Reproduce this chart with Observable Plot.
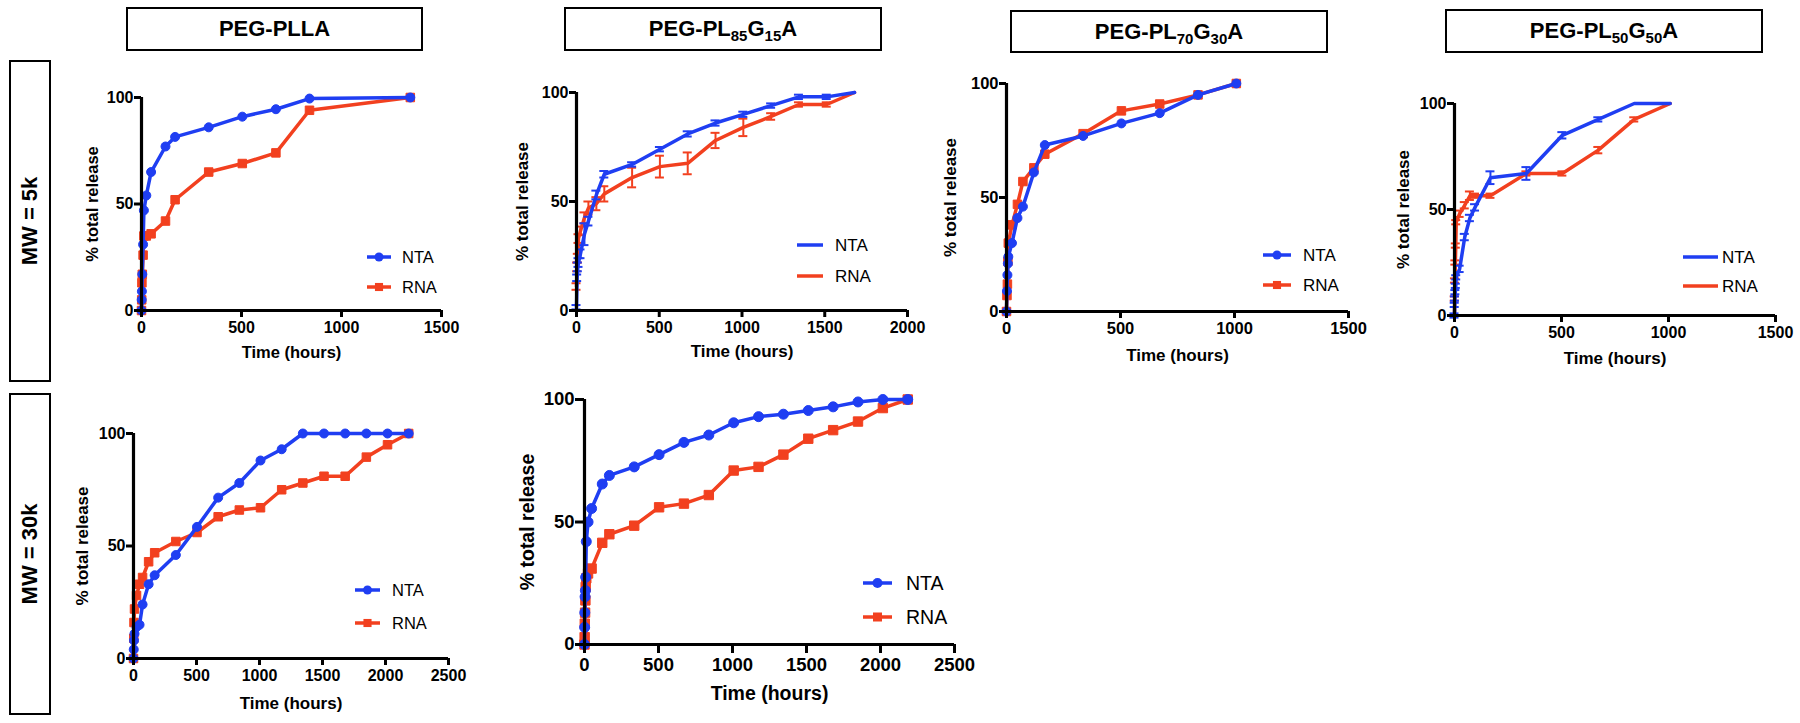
<!DOCTYPE html>
<html><head><meta charset="utf-8">
<script src="https://cdn.jsdelivr.net/npm/d3@7"></script>
<script src="https://cdn.jsdelivr.net/npm/@observablehq/plot@0.6"></script>
<style>
body{margin:0;background:#fff;}
#fig{position:relative;width:1800px;height:723px;overflow:hidden;font-family:"Liberation Sans",Arial,sans-serif;background:#fff;}
.box{position:absolute;border:2px solid #000;box-sizing:border-box;display:flex;align-items:center;justify-content:center;font-weight:bold;font-size:22px;color:#000;}
.box span.rot{display:inline-block;transform:rotate(-90deg);white-space:nowrap;}
.box sub{font-size:15px;vertical-align:-5px;line-height:0;}
svg.plot{position:absolute;}
</style></head><body><div id="fig"></div>
<script>
// ---------- DATA ----------
// PEG-PLLA, MW = 5k
const p1Time = [0, 1, 2, 4, 8, 12, 24, 48, 120, 168, 336, 504, 672, 840, 1344];
const p1NTA  = [0, 5, 9, 17, 31, 47, 54, 65, 77, 81.5, 86, 91, 94.5, 99.5, 100];
const p1RNA  = [0, 5, 13, 17, 26, 35, 35, 36, 42, 52, 65, 69, 74, 94, 100];
// PEG-PL85G15A, MW = 5k (mean ± error)
const p2Time   = [0, 4, 8, 12, 24, 48, 72, 120, 168, 336, 504, 672, 840, 1008, 1176, 1344, 1512, 1680];
const p2NTA    = [1.5, 15, 20, 22, 26, 35, 41, 53, 62.5, 67, 74, 81, 86, 90, 94, 98, 98, 100];
const p2NTAErr = [1, 1.5, 2, 2, 2, 5, 2, 2, 1.5, 1, 1, 1.2, 1.2, 1.2, 1, 1, 1, 0];
const p2RNA    = [11, 20, 24, 33, 36.5, 42.5, 47, 49, 53.5, 61, 66, 67.5, 78, 84, 89, 94.5, 94.5, 100];
const p2RNAErr = [1.5, 2, 2, 2, 2, 2.5, 3, 3, 3.5, 4.5, 5, 5, 3.5, 4, 1.5, 1, 1, 0];
// PEG-PL70G30A, MW = 5k
const p3Time = [0, 2, 4, 6, 8, 24, 48, 72, 120, 168, 336, 504, 672, 840, 1008];
const p3NTA  = [0, 9, 16, 21, 24, 30, 41, 46, 61, 73, 77, 82.5, 87, 95, 100];
const p3RNA  = [0, 7, 12, 22, 30, 38, 47, 57, 63, 69, 78, 88, 91, 95, 100];
// PEG-PL50G50A, MW = 5k (mean ± error)
const p4Time   = [0, 1, 2, 4, 6, 8, 24, 48, 72, 96, 168, 336, 504, 672, 840, 1008];
const p4NTA    = [0, 5, 8, 11, 14, 18, 22, 37, 46, 51, 65, 67, 85, 92.5, 100, 100];
const p4NTAErr = [1, 1, 1, 1, 1, 1, 1.5, 1.5, 1.5, 1.5, 3, 3, 1.5, 1, 0, 0];
const p4RNA    = [0, 8, 16.5, 25, 33, 44, 48, 52, 56.5, 56.5, 56.5, 67, 67, 78, 92.5, 100];
const p4RNAErr = [0, 1, 1, 1, 1, 1, 1.5, 1.5, 2, 1, 1, 1, 1, 1.5, 1, 0];
// PEG-PLLA, MW = 30k
const p5Time = [0, 2, 4, 8, 24, 48, 72, 120, 168, 336, 504, 672, 840, 1008, 1176, 1344, 1512, 1680, 1848, 2016, 2184];
const p5NTA  = [0, 4, 8, 11, 14, 15, 24, 33, 37, 46, 58.5, 71.5, 78, 88, 93, 100, 100, 100, 100, 100, 100];
const p5RNA  = [0, 9, 16, 22, 28, 33, 36, 43, 47, 52, 56, 63, 66, 67, 75, 78, 81, 81, 89.5, 95, 100];
// PEG-PL85G15A, MW = 30k
const p6Time = [0, 1, 2, 4, 6, 8, 12, 24, 48, 120, 168, 336, 504, 672, 840, 1008, 1176, 1344, 1512, 1680, 1848, 2016, 2184];
const p6NTA  = [0, 7, 13, 19.5, 22, 27.5, 42, 50, 55.5, 65.5, 69, 72.5, 77.5, 82.5, 85.5, 90.5, 93, 94, 95.5, 97, 99, 100, 100];
const p6RNA  = [0, 3, 8.5, 13, 18, 23.5, 27, 29, 31, 41.5, 45, 48.5, 56, 57.5, 61, 71, 72.5, 77.5, 84, 87.5, 91, 96.5, 100];

const seriesNames = ["NTA", "RNA"];
const yTicks = [0, 50, 100];
const xTitle = "Time (hours)";
const yTitle = "% total release";

// ---------- LAYOUT ----------
const BLUE = "#1f3ef2", RED = "#f2401f";
const FONT = "'Liberation Sans', Arial, sans-serif";
const fig = document.getElementById("fig");

const titles = [
  {html: "PEG-PLLA", l: 126, t: 7, w: 297, h: 44},
  {html: "PEG-PL<sub>85</sub>G<sub>15</sub>A", l: 564, t: 7, w: 318, h: 44},
  {html: "PEG-PL<sub>70</sub>G<sub>30</sub>A", l: 1010, t: 10, w: 318, h: 43},
  {html: "PEG-PL<sub>50</sub>G<sub>50</sub>A", l: 1445, t: 9, w: 318, h: 44}
];
titles.forEach(b => {
  const d = document.createElement("div");
  d.className = "box";
  Object.assign(d.style, {left: b.l + "px", top: b.t + "px", width: b.w + "px", height: b.h + "px"});
  d.innerHTML = "<span>" + b.html + "</span>";
  fig.appendChild(d);
});
const rows = [
  {text: "MW = 5k", l: 9, t: 60, w: 42, h: 322},
  {text: "MW = 30k", l: 9, t: 393, w: 42, h: 322}
];
rows.forEach(b => {
  const d = document.createElement("div");
  d.className = "box";
  Object.assign(d.style, {left: b.l + "px", top: b.t + "px", width: b.w + "px", height: b.h + "px"});
  d.innerHTML = "<span class='rot'>" + b.text + "</span>";
  fig.appendChild(d);
});

function mkRows(time, vals, errs) {
  return time.map((t, i) => ({t, v: vals[i], e: errs ? errs[i] : 0}));
}

function panel(c) {
  const mL = 80, mR = 25, mT = 15, mB = 65;
  const W = mL + (c.x1 - c.x0) + mR;
  const H = mT + (c.yBot - c.yTop) + mB;
  const nta = mkRows(c.time, c.nta, c.ntaErr);
  const rna = mkRows(c.time, c.rna, c.rnaErr);
  const marks = [];
  const series = [[rna, RED, "square"], [nta, BLUE, "circle"]];
  for (const [data, col, sym] of series) {
    const eb = data.filter(d => d.e > 0);
    if (c.errors) {
      marks.push(Plot.ruleX(eb, {x: "t", y1: d => d.v - d.e, y2: d => d.v + d.e, stroke: col, strokeWidth: 2}));
      marks.push(Plot.ruleY(eb, {x1: "t", x2: "t", y: d => d.v + d.e, stroke: col, strokeWidth: 2, insetLeft: -4.5, insetRight: -4.5}));
      marks.push(Plot.ruleY(eb, {x1: "t", x2: "t", y: d => d.v - d.e, stroke: col, strokeWidth: 2, insetLeft: -4.5, insetRight: -4.5}));
    }
    marks.push(Plot.line(data, {x: "t", y: "v", stroke: col, strokeWidth: 3.5}));
    if (c.markers) {
      marks.push(Plot.dot(data, {x: "t", y: "v", fill: col, stroke: col, strokeWidth: 1, symbol: sym, r: sym === "circle" ? c.mr : c.mr + 0.3}));
    }
  }
  marks.push(Plot.ruleX([0], {stroke: "#000", strokeWidth: 3.2}));
  marks.push(Plot.ruleY([0], {stroke: "#000", strokeWidth: 3.2}));
  marks.push(Plot.axisX({ticks: d3.range(0, c.xmax + 1, 500), tickFormat: d => String(d), tickSize: c.ts, tickPadding: 4,
    strokeWidth: 3, fontSize: c.tf, fontWeight: "bold", fill: "#000", label: null}));
  marks.push(Plot.axisY({ticks: yTicks, tickFormat: d => String(d), tickSize: c.ts, tickPadding: 1,
    strokeWidth: 3, fontSize: c.tf, fontWeight: "bold", fill: "#000", label: null}));
  marks.push(Plot.text([xTitle], {text: d => d, frameAnchor: "bottom", lineAnchor: "middle", textAnchor: "middle",
    dy: c.xo, fontSize: c.lf, fontWeight: "bold", fill: "#000"}));
  marks.push(Plot.text([yTitle], {text: d => d, frameAnchor: "left", lineAnchor: "middle", textAnchor: "middle",
    rotate: -90, dx: -c.yo, fontSize: c.lf, fontWeight: "bold", fill: "#000"}));

  const svg = Plot.plot({
    width: W, height: H, marginLeft: mL, marginRight: mR, marginTop: mT, marginBottom: mB,
    x: {domain: [0, c.xmax], axis: null},
    y: {domain: [0, 100], axis: null},
    style: {fontFamily: FONT, background: "transparent", overflow: "visible", color: "#000"},
    marks
  });
  const left = c.x0 - mL, top = c.yTop - mT;
  svg.classList.add("plot");
  svg.style.left = left + "px";
  svg.style.top = top + "px";

  // legend
  const g = d3.select(svg).append("g").attr("text-anchor", "start");
  const L = c.legend;
  [[seriesNames[0], BLUE, "circle", L.y1], [seriesNames[1], RED, "square", L.y2]].forEach(([name, col, sym, y]) => {
    const yy = y - top;
    g.append("line").attr("x1", L.xa - left).attr("x2", L.xb - left).attr("y1", yy).attr("y2", yy)
      .attr("stroke", col).attr("stroke-width", 3.5);
    if (c.markers) {
      const cx = (L.xa + L.xb) / 2 - left;
      if (sym === "circle") g.append("circle").attr("cx", cx).attr("cy", yy).attr("r", c.mr).attr("fill", col);
      else { const s = c.mr * 1.8; g.append("rect").attr("x", cx - s / 2).attr("y", yy - s / 2).attr("width", s).attr("height", s).attr("fill", col); }
    }
    g.append("text").attr("x", L.xt - left).attr("y", yy).attr("dy", "0.35em").attr("font-size", L.fs)
      .attr("text-anchor", "start").attr("font-weight", "normal").attr("font-family", FONT).attr("fill", "#000").text(name);
  });
  fig.appendChild(svg);
}

panel({x0: 141, x1: 441, yTop: 97, yBot: 310, xmax: 1500, time: p1Time, nta: p1NTA, rna: p1RNA, markers: true, mr: 4.5,
  ts: 7, tf: 16, lf: 16.5, xo: 42, yo: 49, legend: {xa: 367, xb: 391, xt: 402, y1: 257, y2: 287, fs: 16.5}});
panel({x0: 576, x1: 907, yTop: 92, yBot: 310, xmax: 2000, time: p2Time, nta: p2NTA, rna: p2RNA, ntaErr: p2NTAErr, rnaErr: p2RNAErr,
  errors: true, markers: false, mr: 4, ts: 7, tf: 16, lf: 17, xo: 41, yo: 54, legend: {xa: 797, xb: 823, xt: 835, y1: 245, y2: 276, fs: 17}});
panel({x0: 1006, x1: 1348, yTop: 83, yBot: 311, xmax: 1500, time: p3Time, nta: p3NTA, rna: p3RNA, markers: true, mr: 4.5,
  ts: 7, tf: 16.5, lf: 17, xo: 44, yo: 56, legend: {xa: 1263, xb: 1291, xt: 1303, y1: 255, y2: 285, fs: 17}});
panel({x0: 1454, x1: 1775, yTop: 103, yBot: 315, xmax: 1500, time: p4Time, nta: p4NTA, rna: p4RNA, ntaErr: p4NTAErr, rnaErr: p4RNAErr,
  errors: true, markers: false, mr: 4, ts: 7, tf: 16, lf: 17, xo: 43, yo: 51, legend: {xa: 1683, xb: 1718, xt: 1722, y1: 257, y2: 286, fs: 17}});
panel({x0: 133, x1: 448, yTop: 433, yBot: 658, xmax: 2500, time: p5Time, nta: p5NTA, rna: p5RNA, markers: true, mr: 4.5,
  ts: 7, tf: 16, lf: 17, xo: 45, yo: 51, legend: {xa: 355, xb: 380, xt: 392, y1: 590, y2: 623, fs: 16.5}});
panel({x0: 584, x1: 954, yTop: 399, yBot: 644, xmax: 2500, time: p6Time, nta: p6NTA, rna: p6RNA, markers: true, mr: 5,
  ts: 9, tf: 18.5, lf: 19.5, xo: 49, yo: 57, legend: {xa: 863, xb: 892, xt: 906, y1: 583, y2: 617, fs: 19.5}});
</script></body></html>
